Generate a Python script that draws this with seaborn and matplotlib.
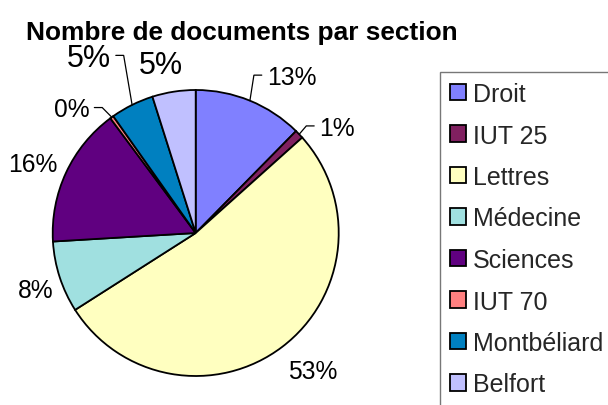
import numpy as np
import matplotlib
matplotlib.use("Agg")
import matplotlib.pyplot as plt
import seaborn as sns

# ---- data ----
sections = ["Droit", "IUT 25", "Lettres", "Médecine", "Sciences", "IUT 70", "Montbéliard", "Belfort"]
shares = [12.4, 1.0, 52.7, 8.1, 15.8, 0.4, 4.9, 4.9]
pct_labels = ["13%", "1%", "53%", "8%", "16%", "0%", "5%", "5%"]
title = "Nombre de documents par section"

# ---- style ----
colors = ["#8080FF", "#802060", "#FFFFC0", "#A0E0E0", "#600080", "#FF8080", "#0080C0", "#C0C0FF"]
# label placement relative to the wedge's outer mid-point: (dx, dy_baseline, leader, fontsize)
label_style = [
    (0.118, 0.117, True, 17.7),
    (0.140, -0.003, True, 17.7),
    (0.212, -0.219, False, 17.7),
    (-0.167, -0.136, False, 17.7),
    (-0.231, 0.014, False, 17.7),
    (-0.157, 0.006, True, 17.7),
    (-0.149, 0.270, True, 22.0),
    (-0.093, 0.129, False, 22.0),
]

sns.set_theme(style="white")
plt.rcParams['font.family'] = ['Liberation Sans', 'DejaVu Sans']

W, H = 608, 406
fig = plt.figure(figsize=(W / 100, H / 100), dpi=100)
fig.patch.set_facecolor("white")

cx, cy, R = 195.7, 234.0, 143.0
ax = fig.add_axes([(cx - R) / W, 1 - (cy + R) / H, 2 * R / W, 2 * R / H])
wedges, _ = ax.pie(shares, colors=colors, startangle=90, counterclock=False,
                   wedgeprops=dict(edgecolor="black", linewidth=1.3))
ax.set_xlim(-1, 1)
ax.set_ylim(-1, 1)
ax.set_aspect("equal")
ax.axis("off")

for w, lab, (dx, dy, leader, fs) in zip(wedges, pct_labels, label_style):
    mid = np.deg2rad((w.theta1 + w.theta2) / 2)
    ex, ey = np.cos(mid), np.sin(mid)
    tx, ty = ex + dx, ey + dy
    if leader:
        side = 1 if dx > 0 else -1
        ha = "left" if side > 0 else "right"
        half_cap = fs * 100 / 72 * 0.716 / 2 / R
        ly = ty + half_cap
        end_x = tx - side * 0.035
        elbow_x = end_x - side * 0.055
        ax.plot([ex, elbow_x, end_x], [ey, ly, ly], color="black", lw=0.9,
                clip_on=False, solid_joinstyle="miter")
    else:
        ha = "center"
    ax.text(tx, ty, lab, ha=ha, va="baseline", fontsize=fs, color="black", clip_on=False)

fig.text(26 / W, 1 - 40 / H, title, ha="left", va="baseline", fontsize=18.9,
         fontweight="bold", color="black")

leg = fig.legend(wedges, sections, loc="upper left", bbox_to_anchor=(440 / W, 1 - 73 / H),
                 bbox_transform=fig.transFigure, borderaxespad=0, fontsize=18,
                 frameon=True, fancybox=False, shadow=False, edgecolor="#555555",
                 handlelength=0.64, handleheight=0.64, handletextpad=0.28,
                 labelspacing=0.70, borderpad=0.4)
leg.get_frame().set_linewidth(1.0)

fig.savefig("out.png", dpi=100, facecolor="white")
